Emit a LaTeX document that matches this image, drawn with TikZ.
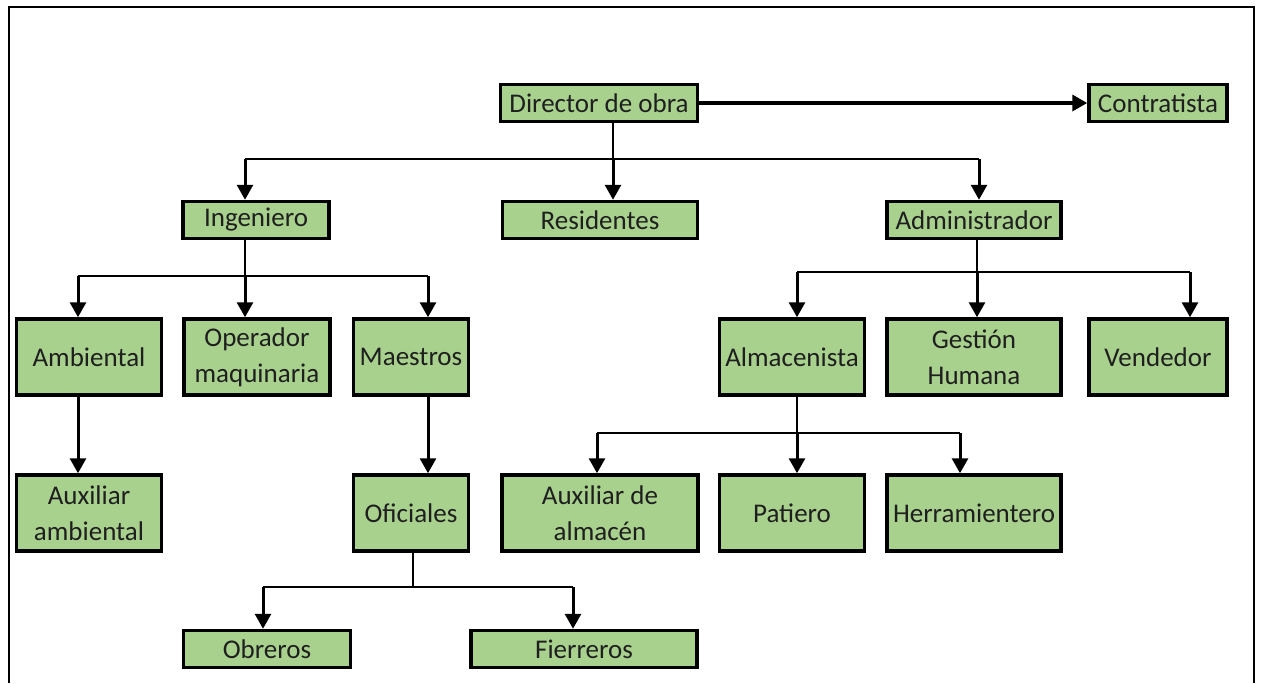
\documentclass[tikz,border=0pt]{standalone}
\usepackage{fontspec}
\setmainfont{Carlito}
\usepackage{tikz}
\usetikzlibrary{arrows.meta}
\definecolor{cargo}{HTML}{A9D18E}

\begin{document}
\begin{tikzpicture}[
        x=1pt, y=-1pt,
        box/.style={draw, line width=3.5pt, fill=cargo, inner sep=0pt, align=center,
          text=black!88, font=\fontsize{27}{36}\selectfont},
        low/.style={box, minimum height=37},
        tall/.style={box, minimum height=76},
        bus/.style={line width=1.6pt},
        drop/.style={line width=3pt, -{Triangle[width=16pt,length=15pt]}}
      ]
        \useasboundingbox (0,0) rectangle (1261,683);
        \draw[line width=2.5pt] (9,683) -- (9,7) -- (1254,7) -- (1254,683);

        % rows of boxes
        \node[low, minimum width=197] (dir) at (599,103) {Director de obra};
        \node[low, minimum width=138] (con) at (1158,103) {Contratista};

        \node[low, minimum width=146] (ing) at (256,220) {Ingeniero};
        \node[low, minimum width=195] (res) at (600,220) {Residentes};
        \node[low, minimum width=174] (adm) at (974,220) {Administrador};

        \node[tall, minimum width=145] (amb) at (89,357) {Ambiental};
        \node[tall, minimum width=146] (ope) at (257,357) {Operador\\maquinaria};
        \node[tall, minimum width=115] (mae) at (411,357) {Maestros};
        \node[tall, minimum width=145] (alm) at (792,357) {Almacenista};
        \node[tall, minimum width=174] (ges) at (974,357) {Gestión\\Humana};
        \node[tall, minimum width=138] (ven) at (1158,357) {Vendedor};

        \node[tall, minimum width=145] (auxamb) at (89,513) {Auxiliar\\ambiental};
        \node[tall, minimum width=115] (ofi) at (411,513) {Oficiales};
        \node[tall, minimum width=196] (auxalm) at (600,513) {Auxiliar de\\almacén};
        \node[tall, minimum width=145] (pat) at (792,513) {Patiero};
        \node[tall, minimum width=174] (her) at (974,513) {Herramientero};

        \node[low, minimum width=167] (obr) at (267,649) {Obreros};
        \node[low, minimum width=226] (fie) at (584,649) {Fierreros};

        % director de obra
        \draw[line width=3.5pt, -{Triangle[width=16pt,length=15pt]}] (dir) -- (con);
        \coordinate (d0) at (613,159);
        \coordinate (d1) at (245,159);
        \coordinate (d2) at (979,159);
        \draw[bus] (dir.south -| d0) -- (d0);
        \draw[bus] (d1) -- (d2);
        \draw[drop] (d1) -- (ing.north -| d1);
        \draw[drop] (d0) -- (res.north -| d0);
        \draw[drop] (d2) -- (adm.north -| d2);

        % ingeniero
        \coordinate (i0) at (245,276);
        \coordinate (i1) at (78,276);
        \coordinate (i2) at (428,276);
        \draw[bus] (ing.south -| i0) -- (i0);
        \draw[bus] (i1) -- (i2);
        \draw[drop] (i1) -- (amb.north -| i1);
        \draw[drop] (i0) -- (ope.north -| i0);
        \draw[drop] (i2) -- (mae.north -| i2);
        \draw[drop] (amb.south -| i1) -- (auxamb.north -| i1);
        \draw[drop] (mae.south -| i2) -- (ofi.north -| i2);

        % administrador
        \coordinate (a0) at (977,272);
        \coordinate (a1) at (797,272);
        \coordinate (a2) at (1190,272);
        \draw[bus] (adm.south -| a0) -- (a0);
        \draw[bus] (a1) -- (a2);
        \draw[drop] (a1) -- (alm.north -| a1);
        \draw[drop] (a0) -- (ges.north -| a0);
        \draw[drop] (a2) -- (ven.north -| a2);

        % almacenista
        \coordinate (m0) at (797,433);
        \coordinate (m1) at (597,433);
        \coordinate (m2) at (960,433);
        \draw[bus] (alm.south -| m0) -- (m0);
        \draw[bus] (m1) -- (m2);
        \draw[drop] (m1) -- (auxalm.north -| m1);
        \draw[drop] (m0) -- (pat.north -| m0);
        \draw[drop] (m2) -- (her.north -| m2);

        % oficiales
        \coordinate (o0) at (413,587);
        \coordinate (o1) at (263,587);
        \coordinate (o2) at (573,587);
        \draw[bus] (ofi.south -| o0) -- (o0);
        \draw[bus] (o1) -- (o2);
        \draw[drop] (o1) -- (obr.north -| o1);
        \draw[drop] (o2) -- (fie.north -| o2);
      \end{tikzpicture}
\end{document}
